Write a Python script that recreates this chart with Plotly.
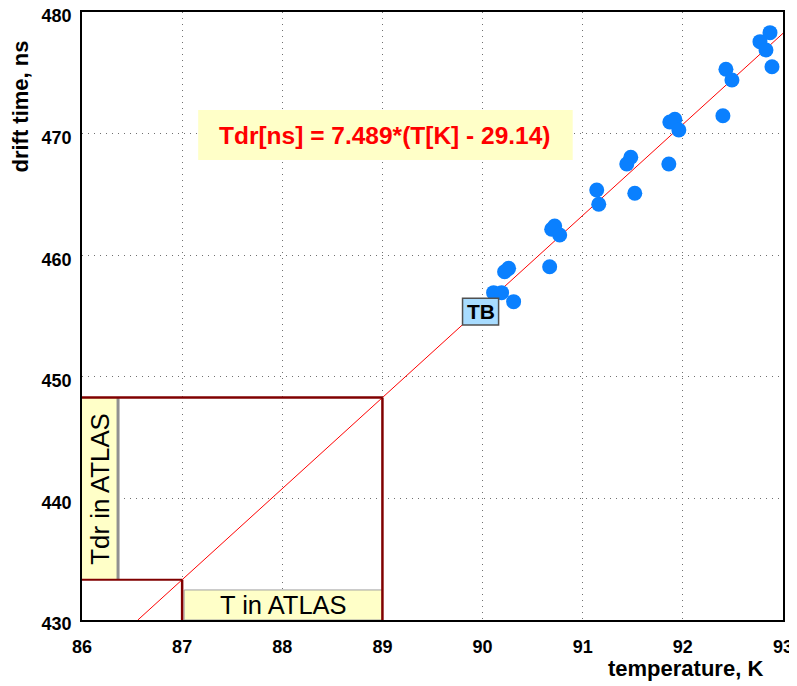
import plotly.graph_objects as go

# ---- data ----
temperature_K = [92.87, 92.77, 92.83, 92.89, 92.43, 92.49, 92.40, 91.92, 91.87, 91.96,
                 91.86, 91.48, 91.44, 91.52, 91.14, 91.16, 90.72, 90.69, 90.77, 90.67,
                 90.26, 90.22, 90.11, 90.19, 90.31]
drift_ns = [478.30, 477.56, 476.88, 475.50, 475.29, 474.41, 471.47, 471.18, 470.95, 470.30,
            467.50, 468.05, 467.50, 465.09, 465.36, 464.19, 462.40, 462.13, 461.66, 459.05,
            458.92, 458.64, 456.92, 456.92, 456.18]

fit_slope = 7.489
fit_offset = 29.14
atlas_T = [87.0, 89.0]          # temperature range in ATLAS
x_ticks = [86, 87, 88, 89, 90, 91, 92, 93]
y_ticks = [430, 440, 450, 460, 470, 480]
x_range = [86, 93]
y_range = [430, 480]

def tdr(t):
    return fit_slope * (t - fit_offset)

x_fit_start = y_range[0] / fit_slope + fit_offset
fit_x = [x_fit_start, x_range[1]]
fit_y = [tdr(v) for v in fit_x]

fig = go.Figure()

fig.add_trace(go.Scatter(x=fit_x, y=fit_y, mode="lines",
                         line=dict(color="#ff0000", width=1), showlegend=False,
                         hoverinfo="skip"))
fig.add_trace(go.Scatter(x=temperature_K, y=drift_ns, mode="markers",
                         marker=dict(color="#0a80ff", size=15, line=dict(width=0)),
                         showlegend=False))

lo_T, hi_T = atlas_T
y_lo, y_hi = tdr(lo_T), tdr(hi_T)
dark_red = "#800000"
pale_yellow = "#ffffc8"
FONT = "Liberation Sans, Arial, Helvetica"

shapes = [
    # yellow label boxes
    dict(type="rect", xref="x", yref="y", x0=86.0, x1=86.36, y0=y_lo, y1=y_hi,
         fillcolor=pale_yellow, line=dict(width=0), layer="above"),
    dict(type="line", xref="x", yref="y", x0=86.36, x1=86.36, y0=y_lo, y1=y_hi,
         line=dict(color="#909090", width=3), layer="above"),
    dict(type="rect", xref="x", yref="y", x0=87.02, x1=hi_T, y0=430, y1=432.47,
         fillcolor=pale_yellow, line=dict(color="#a0a0a0", width=1), layer="above"),
    # equation box
    dict(type="rect", xref="x", yref="y", x0=87.16, x1=90.90, y0=467.83, y1=471.94,
         fillcolor=pale_yellow, line=dict(width=0), layer="above"),
    # ATLAS rectangles
    dict(type="line", xref="x", yref="y", x0=86.0, x1=hi_T, y0=y_hi, y1=y_hi,
         line=dict(color=dark_red, width=2.5), layer="above"),
    dict(type="line", xref="x", yref="y", x0=hi_T, x1=hi_T, y0=430, y1=y_hi,
         line=dict(color=dark_red, width=2.5), layer="above"),
    dict(type="line", xref="x", yref="y", x0=86.0, x1=lo_T, y0=y_lo, y1=y_lo,
         line=dict(color=dark_red, width=2), layer="above"),
    dict(type="line", xref="x", yref="y", x0=lo_T, x1=lo_T, y0=430, y1=y_lo,
         line=dict(color=dark_red, width=2.5), layer="above"),
    # TB box
    dict(type="rect", xref="x", yref="y", x0=89.80, x1=90.16, y0=454.26, y1=456.45,
         fillcolor="#a8dcff", line=dict(color="#505050", width=1.5), layer="above"),
]

annotations = [
    dict(text="Tdr[ns] = 7.489*(T[K] - 29.14)", xref="x", yref="y",
         x=89.03, y=469.88, showarrow=False,
         font=dict(family=FONT, size=24.5, color="#ff0000", weight="bold")),
    dict(text="Tdr in ATLAS", xref="x", yref="y", x=86.18, y=(y_lo + y_hi) / 2,
         showarrow=False, textangle=-90,
         font=dict(family=FONT, size=25.8, color="black")),
    dict(text="T in ATLAS", xref="x", yref="y", x=(87.02 + hi_T) / 2, y=431.2,
         showarrow=False,
         font=dict(family=FONT, size=25.5, color="black")),
    dict(text="<b>TB</b>", xref="x", yref="y", x=89.98, y=455.35, showarrow=False,
         font=dict(family=FONT, size=21, color="black")),
    dict(text="<b>temperature, K</b>", xref="paper", yref="paper", x=1.0, y=-0.079,
         xanchor="right", yanchor="middle", xshift=-18, showarrow=False,
         font=dict(family=FONT, size=22, color="black")),
    dict(text="<b>drift time, ns</b>", xref="paper", yref="paper", x=-0.088, y=0.845,
         xanchor="center", yanchor="middle", textangle=-90, showarrow=False,
         font=dict(family=FONT, size=22, color="black")),
]

axis_common = dict(showline=True, mirror=True, linecolor="black", linewidth=1.5,
                   showgrid=True, gridcolor="#707070", gridwidth=1, griddash="1px,5px",
                   zeroline=False, ticks="", automargin=False, ticklabeloverflow="allow",
                   tickfont=dict(family=FONT, size=18, color="black", weight="bold"))

# page body has an 8px margin: figure is sized/offset so the plot lands where the reference has it
fig.update_layout(
    width=789, height=678,
    margin=dict(l=74, r=14, t=4, b=66),
    paper_bgcolor="white", plot_bgcolor="white",
    xaxis=dict(range=x_range, tickvals=x_ticks, ticklabelstandoff=10, **axis_common),
    yaxis=dict(range=y_range, tickvals=y_ticks, ticklabelstandoff=5,
               ticklabelshift=4, **axis_common),
    shapes=shapes, annotations=annotations,
)

fig.write_html("out.html")
